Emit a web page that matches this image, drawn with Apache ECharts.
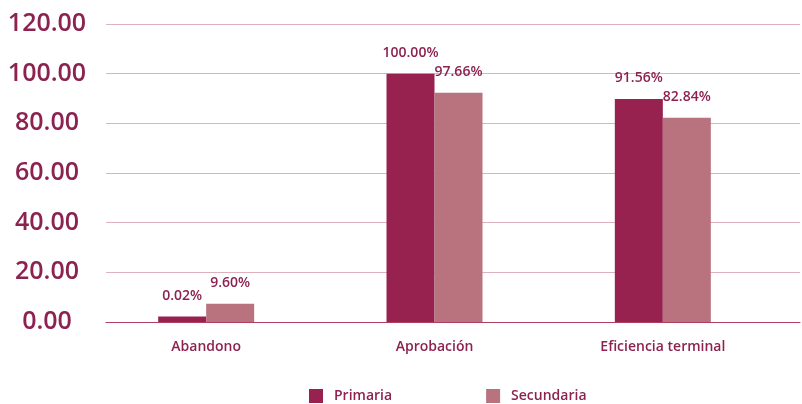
<!DOCTYPE html>
<html>
<head>
<meta charset="utf-8">
<script src="https://cdn.jsdelivr.net/npm/echarts@6/dist/echarts.min.js"></script>
<style>
    html, body { margin: 0; padding: 0; background: #fff; }
    #chart { width: 802px; height: 404px; }
</style>
</head>
<body>
<div id="chart"></div>
<script>
    // valores
    let categories = ['Abandono', 'Aprobación', 'Eficiencia terminal'];
    let seriesNames = ['Primaria', 'Secundaria'];
    let primariaValues = [2.2, 100, 89.8];
    let secundariaValues = [7.3, 92.3, 82.2];
    let primariaLabels = ['0.02%', '100.00%', '91.56%'];
    let secundariaLabels = ['9.60%', '97.66%', '82.84%'];
    let yTicks = [0, 20, 40, 60, 80, 100, 120];

    let colorList = ['#97214f', '#b8737f'];
    let textColor = '#8c2250';
    let fontFamily = '"Open Sans", sans-serif';

    function buildSeries(name, values, labels, color) {
        return {
            name: name,
            type: 'bar',
            xAxisIndex: 0,
            yAxisIndex: 0,
            barWidth: 48,
            barGap: '0%',
            itemStyle: { color: color },
            label: {
                show: true,
                position: 'top',
                distance: 14,
                color: textColor,
                fontFamily: fontFamily,
                fontWeight: 600,
                fontSize: 14,
                formatter: function (p) {
                    return labels[p.dataIndex];
                }
            },
            data: values
        };
    }

    let chart = echarts.init(document.getElementById('chart'));
    let option = {
        color: colorList,
        animation: false,
        // grid 0: barras; grid 1: lineas de fondo y etiquetas del eje y
        grid: [
            { left: 92, right: 25, top: 24, bottom: 82 },
            { left: 106, right: 2, top: 24, bottom: 82 }
        ],
        legend: {
            bottom: 1,
            left: 309,
            padding: 0,
            itemWidth: 14,
            itemHeight: 14,
            itemGap: 94,
            icon: 'rect',
            textStyle: {
                color: textColor,
                fontFamily: fontFamily,
                fontWeight: 600,
                fontSize: 14,
                padding: [0, 0, 0, 6]
            },
            data: seriesNames
        },
        xAxis: [
            {
                type: 'category',
                gridIndex: 0,
                data: categories,
                axisTick: { show: false },
                axisLine: { show: false },
                axisLabel: {
                    color: textColor,
                    fontFamily: fontFamily,
                    fontWeight: 600,
                    fontSize: 14,
                    margin: 18
                }
            },
            {
                type: 'value',
                gridIndex: 1,
                min: 0,
                max: 1,
                axisTick: { show: false },
                axisLabel: { show: false },
                splitLine: { show: false },
                axisLine: { show: true, lineStyle: { color: '#b03e60', width: 1 } }
            }
        ],
        yAxis: [
            {
                type: 'value',
                gridIndex: 0,
                min: yTicks[0],
                max: yTicks[yTicks.length - 1],
                interval: 20,
                axisLine: { show: false },
                axisTick: { show: false },
                axisLabel: { show: false },
                splitLine: { show: false }
            },
            {
                type: 'value',
                gridIndex: 1,
                min: yTicks[0],
                max: yTicks[yTicks.length - 1],
                interval: 20,
                axisLine: { show: false },
                axisTick: { show: false },
                splitLine: { lineStyle: { color: '#deb2bc', width: 1 } },
                axisLabel: {
                    align: 'center',
                    margin: 59,
                    color: textColor,
                    fontFamily: fontFamily,
                    fontWeight: 600,
                    fontSize: 25,
                    formatter: function (val) {
                        return val.toFixed(2);
                    }
                }
            }
        ],
        series: [
            buildSeries(seriesNames[0], primariaValues, primariaLabels, colorList[0]),
            buildSeries(seriesNames[1], secundariaValues, secundariaLabels, colorList[1])
        ]
    };
    chart.setOption(option);
</script>
</body>
</html>
